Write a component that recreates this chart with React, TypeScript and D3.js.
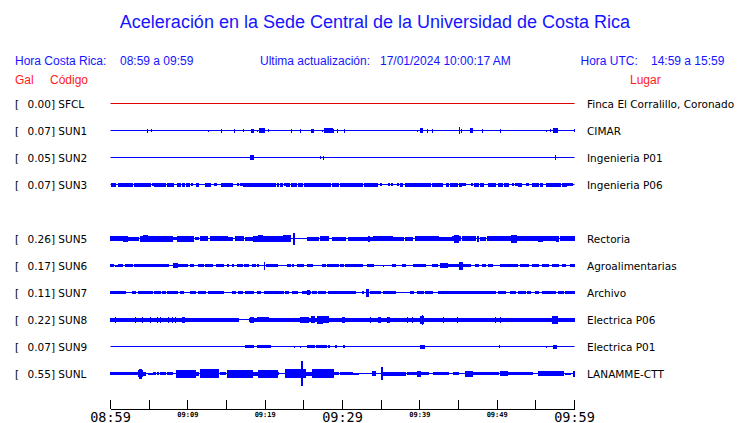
import React from "react";
import * as d3 from "d3";

// ---------- data ----------
const codes = ["SFCL", "SUN1", "SUN2", "SUN3", "SUN5", "SUN6", "SUN7", "SUN8", "SUN9", "SUNL"];
const gal = [0.0, 0.07, 0.05, 0.07, 0.26, 0.17, 0.11, 0.22, 0.07, 0.55];
const places = [
  "Finca El Corralillo, Coronado",
  "CIMAR",
  "Ingenieria P01",
  "Ingenieria P06",
  "Rectoria",
  "Agroalimentarias",
  "Archivo",
  "Electrica P06",
  "Electrica P01",
  "LANAMME-CTT",
];
// row slot of each station (slot 4 = SUN4, not shown)
const rowSlots = [0, 1, 2, 3, 5, 6, 7, 8, 9, 10];
const traceColors = ["#e00000", "#0000ff", "#0000ff", "#0000ff", "#0000ff", "#0000ff", "#0000ff", "#0000ff", "#0000ff", "#0000ff"];

// minutes after 08:59
const tickMinutes = d3.range(0, 61, 5);
const tickLabels = ["08:59", "", "09:09", "", "09:19", "", "09:29", "", "09:39", "", "09:49", "", "09:59"];
const bigTicks = ["08:59", "09:29", "09:59"];

// bursts: [start minute, end minute, half amplitude]
const burstsSFCL: number[][] = [];
const burstsSUN1 = [
  [4.83, 4.83, 2], [5.3, 5.3, 1.5], [12.67, 12.67, 1], [14.35, 14.35, 2], [16.04, 16.04, 2], [17.2, 17.2, 1.5],
  [18.2, 18.45, 2], [18.97, 18.97, 1], [19.27, 19.9, 2.5], [20.47, 20.47, 1.5], [23.45, 23.45, 2], [24.6, 24.6, 2],
  [26.0, 26.3, 2], [27.45, 27.45, 1], [27.7, 28.7, 2.5], [28.9, 28.9, 2], [29.4, 29.4, 2], [30.2, 30.2, 2],
  [39.7, 39.7, 1], [40.1, 40.4, 2.5], [40.95, 40.95, 2], [41.7, 41.7, 2], [45.1, 45.1, 3.5], [45.4, 45.4, 2],
  [46.6, 46.85, 2.5], [48.15, 48.15, 2], [50.4, 50.4, 2], [56.4, 56.4, 1], [56.9, 56.9, 1.5], [57.3, 57.8, 2.5],
  [59.95, 59.95, 1.5],
];
const burstsSUN2 = [[18.1, 18.45, 2.5], [27.1, 27.1, 1.5], [27.5, 27.5, 2], [57.6, 57.6, 2.5]];
const burstsSUN3 = [
  [0.13, 0.65, 2], [0.99, 1.25, 2], [1.38, 2.8, 2], [3.15, 3.45, 2], [3.66, 3.92, 2], [4.01, 4.74, 2],
  [4.87, 5.17, 2], [5.43, 5.6, 1.5], [5.69, 5.91, 2], [6.12, 7.11, 2], [7.41, 8.19, 2], [8.62, 9.05, 2],
  [9.27, 9.61, 2], [9.78, 10.22, 2], [10.47, 10.65, 1.5], [11.08, 11.34, 2], [12.28, 12.93, 2], [13.49, 13.71, 1.5],
  [14.35, 14.66, 2], [14.78, 15.73, 2], [16.38, 16.51, 1.5], [16.81, 17.03, 1.5], [17.16, 21.34, 2],
  [21.55, 21.77, 2], [21.94, 22.2, 2], [22.46, 22.63, 1.5], [22.72, 23.15, 2], [23.36, 24.05, 2],
  [24.27, 24.78, 2], [25.13, 28.41, 2], [28.66, 29.53, 2], [29.74, 32.54, 2], [32.89, 33.19, 2],
  [33.41, 33.84, 2], [34.05, 34.48, 2], [34.96, 35.04, 1.5], [35.91, 36.08, 1.5], [36.34, 36.51, 1.5],
  [37.07, 37.28, 1.5], [37.5, 37.72, 2], [38.15, 38.79, 2], [38.92, 41.38, 2], [41.59, 42.03, 2],
  [42.16, 42.97, 2], [43.45, 43.75, 2], [44.01, 44.83, 2], [45.13, 45.39, 2], [45.56, 45.91, 1.5],
  [46.64, 46.85, 1.5], [47.11, 47.63, 2], [47.84, 48.28, 2], [48.92, 49.78, 2], [50.22, 50.73, 2],
  [50.91, 51.51, 2], [51.94, 52.16, 1.5], [52.37, 52.59, 1.5], [52.8, 53.15, 2], [53.75, 54.01, 1.5],
  [54.53, 55.39, 2], [55.65, 55.91, 2], [56.34, 58.19, 2], [58.49, 58.92, 2], [59.05, 59.35, 1.5],
  [59.53, 59.7, 1.5],
];
const burstsSUN5 = [
  [0, 1.51, 2.5], [1.72, 2.16, 3], [2.37, 3.66, 2], [3.88, 7.97, 3], [4.31, 4.74, 3.5], [7.97, 8.49, 1.5],
  [8.62, 10.78, 3], [10.99, 11.42, 1.5], [11.64, 12.5, 2.5], [12.93, 15.09, 2.5], [15.3, 15.73, 2],
  [16.16, 17.24, 2.5], [17.46, 18.32, 2], [18.53, 22.2, 3], [19.18, 19.61, 3.5], [22.41, 23.28, 3.5],
  [23.62, 23.79, 6], [25.43, 26.94, 2], [27.16, 28.23, 2.5], [28.66, 30.39, 2], [30.82, 33.84, 2],
  [33.3, 33.5, 3], [34.05, 36.42, 2.5], [36.51, 37.93, 2], [38.15, 39.01, 2], [39.44, 40.3, 2.5],
  [40.52, 42.46, 2.5], [42.46, 44.18, 2], [44.18, 45.26, 2.5], [44.48, 45.04, 4], [45.47, 47.2, 2.5],
  [47.41, 47.63, 3], [47.84, 48.49, 2], [48.71, 51.72, 2.5], [51.85, 52.46, 4], [52.59, 55.39, 2.5],
  [55.39, 55.82, 3], [56.03, 57.54, 2.5], [57.63, 57.97, 3], [58.19, 60, 2.5],
];
const burstsSUN6 = [
  [0, 0.43, 1.5], [0.65, 0.86, 1], [1.08, 1.51, 1.5], [1.94, 2.8, 1.5], [3.15, 4.01, 1.5], [4.18, 7.54, 1.5],
  [8.19, 8.62, 2.5], [8.75, 9.91, 1.5], [10.34, 10.78, 1.5], [11.42, 12.07, 1.5], [12.28, 13.15, 1.5],
  [13.66, 14.66, 1.5], [15.09, 15.3, 1.5], [15.73, 15.95, 1.5], [16.38, 17.03, 1.5], [17.37, 17.89, 1.5],
  [18.32, 18.75, 1.5], [18.97, 19.18, 1.5], [19.87, 19.95, 4], [20.13, 21.55, 1.5], [22.84, 23.28, 1.5],
  [23.49, 23.71, 1.5], [24.14, 25, 1.5], [25.43, 26.08, 1.5], [27.37, 27.8, 1.5], [28.02, 29.53, 1.5],
  [29.74, 30.17, 1.5], [30.39, 32.54, 1.5], [33.19, 34.05, 1.5], [35.34, 35.34, 1], [36.42, 36.85, 1.5],
  [37.72, 38.15, 1.5], [39.22, 39.66, 1.5], [39.87, 40.73, 1.5], [41.59, 42.24, 1.5], [42.67, 43.53, 2.5],
  [43.75, 45.04, 1.5], [45.17, 45.47, 4], [45.69, 46.55, 1.5], [47.2, 47.63, 1.5], [48.06, 48.49, 1.5],
  [48.92, 49.35, 1.5], [50.43, 52.59, 1.5], [53.02, 54.09, 1.5], [54.53, 55.39, 1.5], [55.82, 56.68, 1.5],
  [57.11, 57.97, 1.5], [58.41, 58.84, 1.5], [59.48, 60, 1.5],
];
const burstsSUN7 = [
  [0, 1.94, 1.5], [2.8, 3.23, 1.5], [3.66, 4.74, 1.5], [4.96, 5.39, 1.5], [5.73, 6.47, 1.5], [6.68, 7.11, 1.5],
  [7.33, 7.97, 1.5], [8.19, 8.62, 1.5], [9.05, 9.48, 1.5], [10.34, 10.99, 1.5], [11.42, 12.28, 1.5],
  [12.72, 14.66, 1.5], [15.73, 16.16, 1.5], [16.59, 17.03, 1.5], [17.46, 18.53, 1.5], [18.97, 19.4, 1.5],
  [19.96, 22.41, 1.5], [22.63, 22.97, 1.5], [23.49, 24.14, 1.5], [24.78, 25.86, 1.5], [25.47, 25.73, 2.5],
  [26.08, 26.59, 1.5], [26.94, 27.8, 1.5], [28.23, 31.68, 1.5], [32.54, 32.76, 1.5], [33.1, 33.41, 4],
  [33.62, 34.91, 1.5], [35.34, 36.85, 1.5], [38.79, 39.22, 1.5], [39.66, 40.52, 1.5], [40.73, 41.59, 1.5],
  [42.46, 44.83, 1.5], [45.04, 46.77, 1.5], [46.98, 49.78, 1.5], [50.22, 51.08, 1.5], [51.72, 52.37, 1.5],
  [52.8, 53.66, 1.5], [53.88, 54.31, 1.5], [54.96, 55.39, 1.5], [55.82, 57.54, 1.5], [57.97, 58.62, 1.5],
  [58.84, 60, 1.5],
];
const burstsSUN8 = [
  [0, 16.59, 2], [17.97, 60, 2], [0.65, 0.65, 3], [3.23, 3.23, 3], [4.18, 4.18, 3], [5.17, 5.17, 3],
  [6.03, 6.03, 3], [6.47, 6.47, 3], [7.54, 7.54, 3], [7.97, 7.97, 3], [8.41, 8.41, 3], [9.35, 9.61, 3],
  [18.1, 18.53, 3], [18.97, 20.47, 2.5], [24.57, 24.78, 3], [25, 25.65, 3], [25.99, 26.42, 3.5],
  [26.72, 27.37, 4], [27.59, 28.23, 3.5], [29.96, 30.3, 3], [33.62, 33.62, 3], [34.7, 34.91, 3],
  [35.78, 36.08, 3], [38.36, 38.36, 3], [39.01, 39.01, 3], [40.09, 40.52, 4], [40.3, 40.35, 5],
  [43.1, 43.1, 3], [44.83, 44.83, 3], [49.78, 49.78, 3], [50.43, 50.43, 3], [57.11, 57.76, 4],
];
const burstsSUN9 = [
  [17.46, 17.67, 1.5], [17.89, 18.53, 1.5], [18.97, 20.69, 1.5], [23.84, 23.84, 1], [24.57, 24.57, 1],
  [25.52, 26.42, 1.5], [26.64, 27.89, 1.5], [28.23, 28.36, 1.5], [29.09, 29.22, 1.5], [30.17, 30.3, 1.5],
  [40.09, 40.6, 2], [50.34, 50.34, 1.5], [56.38, 56.38, 1], [57.33, 57.63, 2],
];
const burstsSUNL = [
  [0, 1.94, 1.5], [1.94, 3.45, 1.5], [3.58, 4.09, 3.5], [3.79, 3.97, 5], [4.18, 4.53, 2], [4.96, 5.39, 1],
  [5.6, 5.82, 1.5], [6.03, 6.25, 1.5], [6.47, 7.11, 1.5], [7.33, 7.97, 1.5], [8.49, 10.99, 4],
  [11.08, 11.42, 2], [11.64, 14.01, 4.5], [14.22, 14.87, 1.5], [15.09, 18.32, 4], [18.32, 18.97, 2],
  [19.1, 21.55, 4], [21.77, 21.77, 1.5], [22.63, 25.22, 4.5], [24.7, 24.78, 12.5], [25.22, 26.08, 2],
  [26.08, 28.88, 4.5], [28.88, 29.53, 1.5], [29.74, 30.6, 1.5], [30.82, 31.25, 1.5], [31.47, 32.11, 1],
  [33.84, 34.27, 2.5], [35.09, 35.15, 6.5], [35.34, 38.15, 2], [38.36, 39.66, 1.5], [39.66, 40.09, 3],
  [40.09, 41.16, 1.5], [41.81, 43.75, 1.5], [44.4, 45.04, 1.5], [45.91, 46.77, 3], [46.77, 50.22, 1.5],
  [50.43, 51.29, 2.5], [51.51, 54.53, 1.5], [55.39, 58.62, 2.5], [58.84, 59.48, 1], [59.91, 60, 3],
];
const bursts = [burstsSFCL, burstsSUN1, burstsSUN2, burstsSUN3, burstsSUN5, burstsSUN6, burstsSUN7, burstsSUN8, burstsSUN9, burstsSUNL];

// ---------- chart ----------
const W = 740;
const H = 423;
const BLUE = "#1414ff";
const RED = "#ff1a1a";
const HEAD_FONT = "'Liberation Sans', Arial, sans-serif";
const LABEL_FONT = "'DejaVu Sans', sans-serif";
const MONO_FONT = "'DejaVu Sans Mono', monospace";

export default function App() {
  const x = d3.scaleLinear().domain([0, 60]).range([110.5, 574.5]);
  const yRow = d3.scaleLinear().domain([0, 10]).range([103.5, 373.5]);
  const amp = d3.scaleLinear().domain([0, 10]).range([0, 10]);

  return (
    <svg width={W} height={H} style={{ position: "absolute", left: 0, top: 0, background: "#fff" }}>
      <rect width={W} height={H} fill="#fff" />
      <text x={375} y={28} textAnchor="middle" fill={BLUE} fontFamily={HEAD_FONT} fontSize={18}>
        Aceleración en la Sede Central de la Universidad de Costa Rica
      </text>
      <g fill={BLUE} fontFamily={HEAD_FONT} fontSize={12}>
        <text x={15} y={65}>Hora Costa Rica:</text>
        <text x={120} y={65}>08:59 a 09:59</text>
        <text x={260} y={65}>Ultima actualización:</text>
        <text x={380} y={65}>17/01/2024 10:00:17 AM</text>
        <text x={580.5} y={65}>Hora UTC:</text>
        <text x={651} y={65}>14:59 a 15:59</text>
      </g>
      <g fill={RED} fontFamily={HEAD_FONT} fontSize={12}>
        <text x={15} y={84}>Gal</text>
        <text x={50} y={84}>Código</text>
        <text x={630} y={84}>Lugar</text>
      </g>

      {codes.map((code, i) => {
        const yc = yRow(rowSlots[i]);
        return (
          <g key={code}>
            <text x={15} y={yc + 4} fontFamily={LABEL_FONT} fontSize={10.5} fill="#000">[</text>
            <text x={27.5} y={yc + 4} fontFamily={LABEL_FONT} fontSize={10.5} fill="#000">
              {gal[i].toFixed(2)}] {code}
            </text>
            <text x={587} y={yc + 4} fontFamily={LABEL_FONT} fontSize={10.5} fill="#000">
              {places[i]}
            </text>
            <line x1={x(0)} x2={x(60)} y1={yc} y2={yc} stroke={traceColors[i]} strokeWidth={1.2} />
            {bursts[i].map((b, j) => {
              const x0 = x(b[0]);
              const x1 = x(b[1]);
              const a = amp(b[2]);
              return (
                <rect
                  key={j}
                  x={x0 - 0.5}
                  y={yc - a}
                  width={Math.max(1, x1 - x0 + 1)}
                  height={2 * a}
                  fill={traceColors[i]}
                  shapeRendering="crispEdges"
                />
              );
            })}
          </g>
        );
      })}

      <g>
        <line x1={x(0)} x2={x(60)} y1={409} y2={409} stroke="#000" strokeWidth={1} shapeRendering="crispEdges" />
        {tickMinutes.map((m, k) => (
          <g key={m}>
            <line x1={x(m)} x2={x(m)} y1={400} y2={409} stroke="#000" strokeWidth={1} shapeRendering="crispEdges" />
            {tickLabels[k] !== "" && (
              bigTicks.includes(tickLabels[k]) ? (
                <text x={x(m)} y={421.5} textAnchor="middle" fontFamily={MONO_FONT} fontSize={13.5} fill="#000">
                  {tickLabels[k]}
                </text>
              ) : (
                <text x={x(m)} y={416.5} textAnchor="middle" fontFamily={MONO_FONT} fontSize={7} fontWeight="bold" fill="#000">
                  {tickLabels[k]}
                </text>
              )
            )}
          </g>
        ))}
      </g>
    </svg>
  );
}
